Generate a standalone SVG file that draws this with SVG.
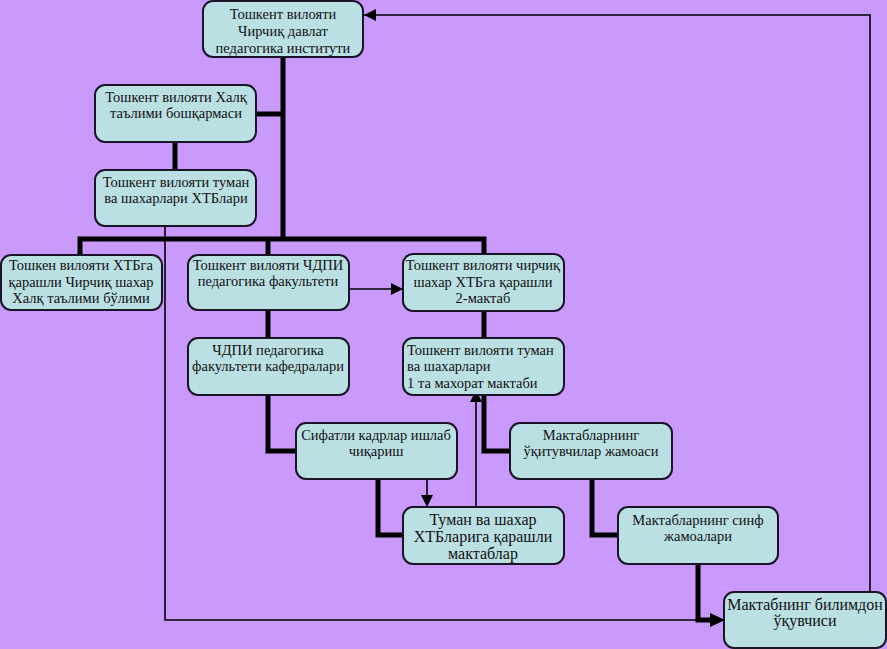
<svg xmlns="http://www.w3.org/2000/svg" width="887" height="649" viewBox="0 0 887 649">
<style>
.box{fill:#BBE0E3;stroke:#1a1426;stroke-width:2}
.t{font-family:"Liberation Serif","Times New Roman",serif;font-size:14.5px;fill:#111;text-anchor:middle}
.tl{font-family:"Liberation Serif","Times New Roman",serif;font-size:14.5px;fill:#111;text-anchor:start}
.big{font-size:16px}
.thick{fill:none;stroke:#000;stroke-width:5}
.thin{fill:none;stroke:#000;stroke-width:1.6}
</style>
<defs>
<marker id="ahb" viewBox="0 0 10 10" refX="10" refY="5" markerWidth="14" markerHeight="12" markerUnits="userSpaceOnUse" orient="auto">
<path d="M0,0 L10,5 L0,10 z" fill="#000"/>
</marker>
</defs>
<rect x="0" y="0" width="887" height="649" fill="#C999FC"/>
<g id="connectors">
<path class="thick" d="M283,57 V239"/>
<path class="thick" d="M256,114 H283"/>
<path class="thick" d="M175,142 V170"/>
<path class="thick" d="M80,255 V239 H484 V254"/>
<path class="thick" d="M268,239 V255"/>
<path class="thick" d="M268,310 V338"/>
<path class="thick" d="M484,311 V338"/>
<path class="thick" d="M268,395 V451 H296"/>
<path class="thick" d="M378,479 V535 H403"/>
<path class="thick" d="M484,395 V451 H510"/>
<path class="thick" d="M592,479 V535 H618"/>
<path class="thick" d="M698,564 V620 H712"/>
<path class="thin" d="M165,217 V620 H712"/>
<path d="M710,613 L725,620 L710,627 z" fill="#000"/>
<path class="thin" d="M870,592 V15 H364" marker-end="url(#ahb)"/>
<path class="thin" d="M343,289 H403" marker-end="url(#ahb)"/>
<path class="thin" d="M427,474 V507" marker-end="url(#ahb)"/>
<path class="thin" d="M476,507 V390" marker-end="url(#ahb)"/>
</g>
<g id="n1"><rect class="box" x="203" y="1" width="160" height="56" rx="10"/>
<text class="t" x="283" y="19">Тошкент вилояти</text><text class="t" x="283" y="36">Чирчиқ давлат</text><text class="t" x="283" y="53">педагогика институти</text></g>
<g id="n2"><rect class="box" x="95" y="85" width="161" height="57" rx="10"/>
<text class="t" x="176" y="102">Тошкент вилояти Халқ</text><text class="t" x="176" y="118">таълими бошқармаси</text></g>
<g id="n3"><rect class="box" x="95" y="170" width="161" height="56" rx="10"/>
<text class="t" x="176" y="187">Тошкент вилояти туман</text><text class="t" x="176" y="203">ва шахарлари ХТБлари</text></g>
<g id="n4"><rect class="box" x="1" y="255" width="161" height="55" rx="10"/>
<text class="t" x="81" y="270">Тошкен вилояти ХТБга</text><text class="t" x="81" y="287">қарашли Чирчиқ шахар</text><text class="t" x="81" y="303">Халқ таълими бўлими</text></g>
<g id="n5"><rect class="box" x="188" y="255" width="161" height="55" rx="10"/>
<text class="t" x="268" y="270">Тошкент вилояти ЧДПИ</text><text class="t" x="268" y="286">педагогика факультети</text></g>
<g id="n6"><rect class="box" x="403" y="254" width="161" height="57" rx="10"/>
<text class="t" x="483" y="270">Тошкент вилояти чирчиқ</text><text class="t" x="483" y="287">шахар ХТБга қарашли</text><text class="t" x="483" y="303">2-мактаб</text></g>
<g id="n7"><rect class="box" x="188" y="338" width="161" height="57" rx="10"/>
<text class="t" x="268" y="355">ЧДПИ педагогика</text><text class="t" x="268" y="371">факультети кафедралари</text></g>
<g id="n8"><rect class="box" x="403" y="338" width="161" height="57" rx="10"/>
<text class="tl" x="407" y="355">Тошкент вилояти туман</text><text class="tl" x="407" y="371">ва шахарлари</text><text class="tl" x="407" y="388">1 та махорат мактаби</text></g>
<g id="n9"><rect class="box" x="296" y="423" width="161" height="56" rx="10"/>
<text class="t" x="376" y="440">Сифатли кадрлар ишлаб</text><text class="t" x="376" y="456">чиқариш</text></g>
<g id="n10"><rect class="box" x="403" y="507" width="161" height="57" rx="10"/>
<text class="t big" x="483" y="525">Туман ва шахар</text><text class="t big" x="483" y="542">ХТБларига қарашли</text><text class="t big" x="483" y="559">мактаблар</text></g>
<g id="n11"><rect class="box" x="510" y="423" width="162" height="56" rx="10"/>
<text class="t" x="591" y="440">Мактабларнинг</text><text class="t" x="591" y="456">ўқитувчилар жамоаси</text></g>
<g id="n12"><rect class="box" x="618" y="507" width="160" height="57" rx="10"/>
<text class="t" x="698" y="525">Мактабларнинг синф</text><text class="t" x="698" y="541">жамоалари</text></g>
<g id="n13"><rect class="box" x="724" y="592" width="162" height="56" rx="10"/>
<text class="t big" x="805" y="610">Мактабнинг билимдон</text><text class="t big" x="805" y="626">ўқувчиси</text></g>
</svg>
